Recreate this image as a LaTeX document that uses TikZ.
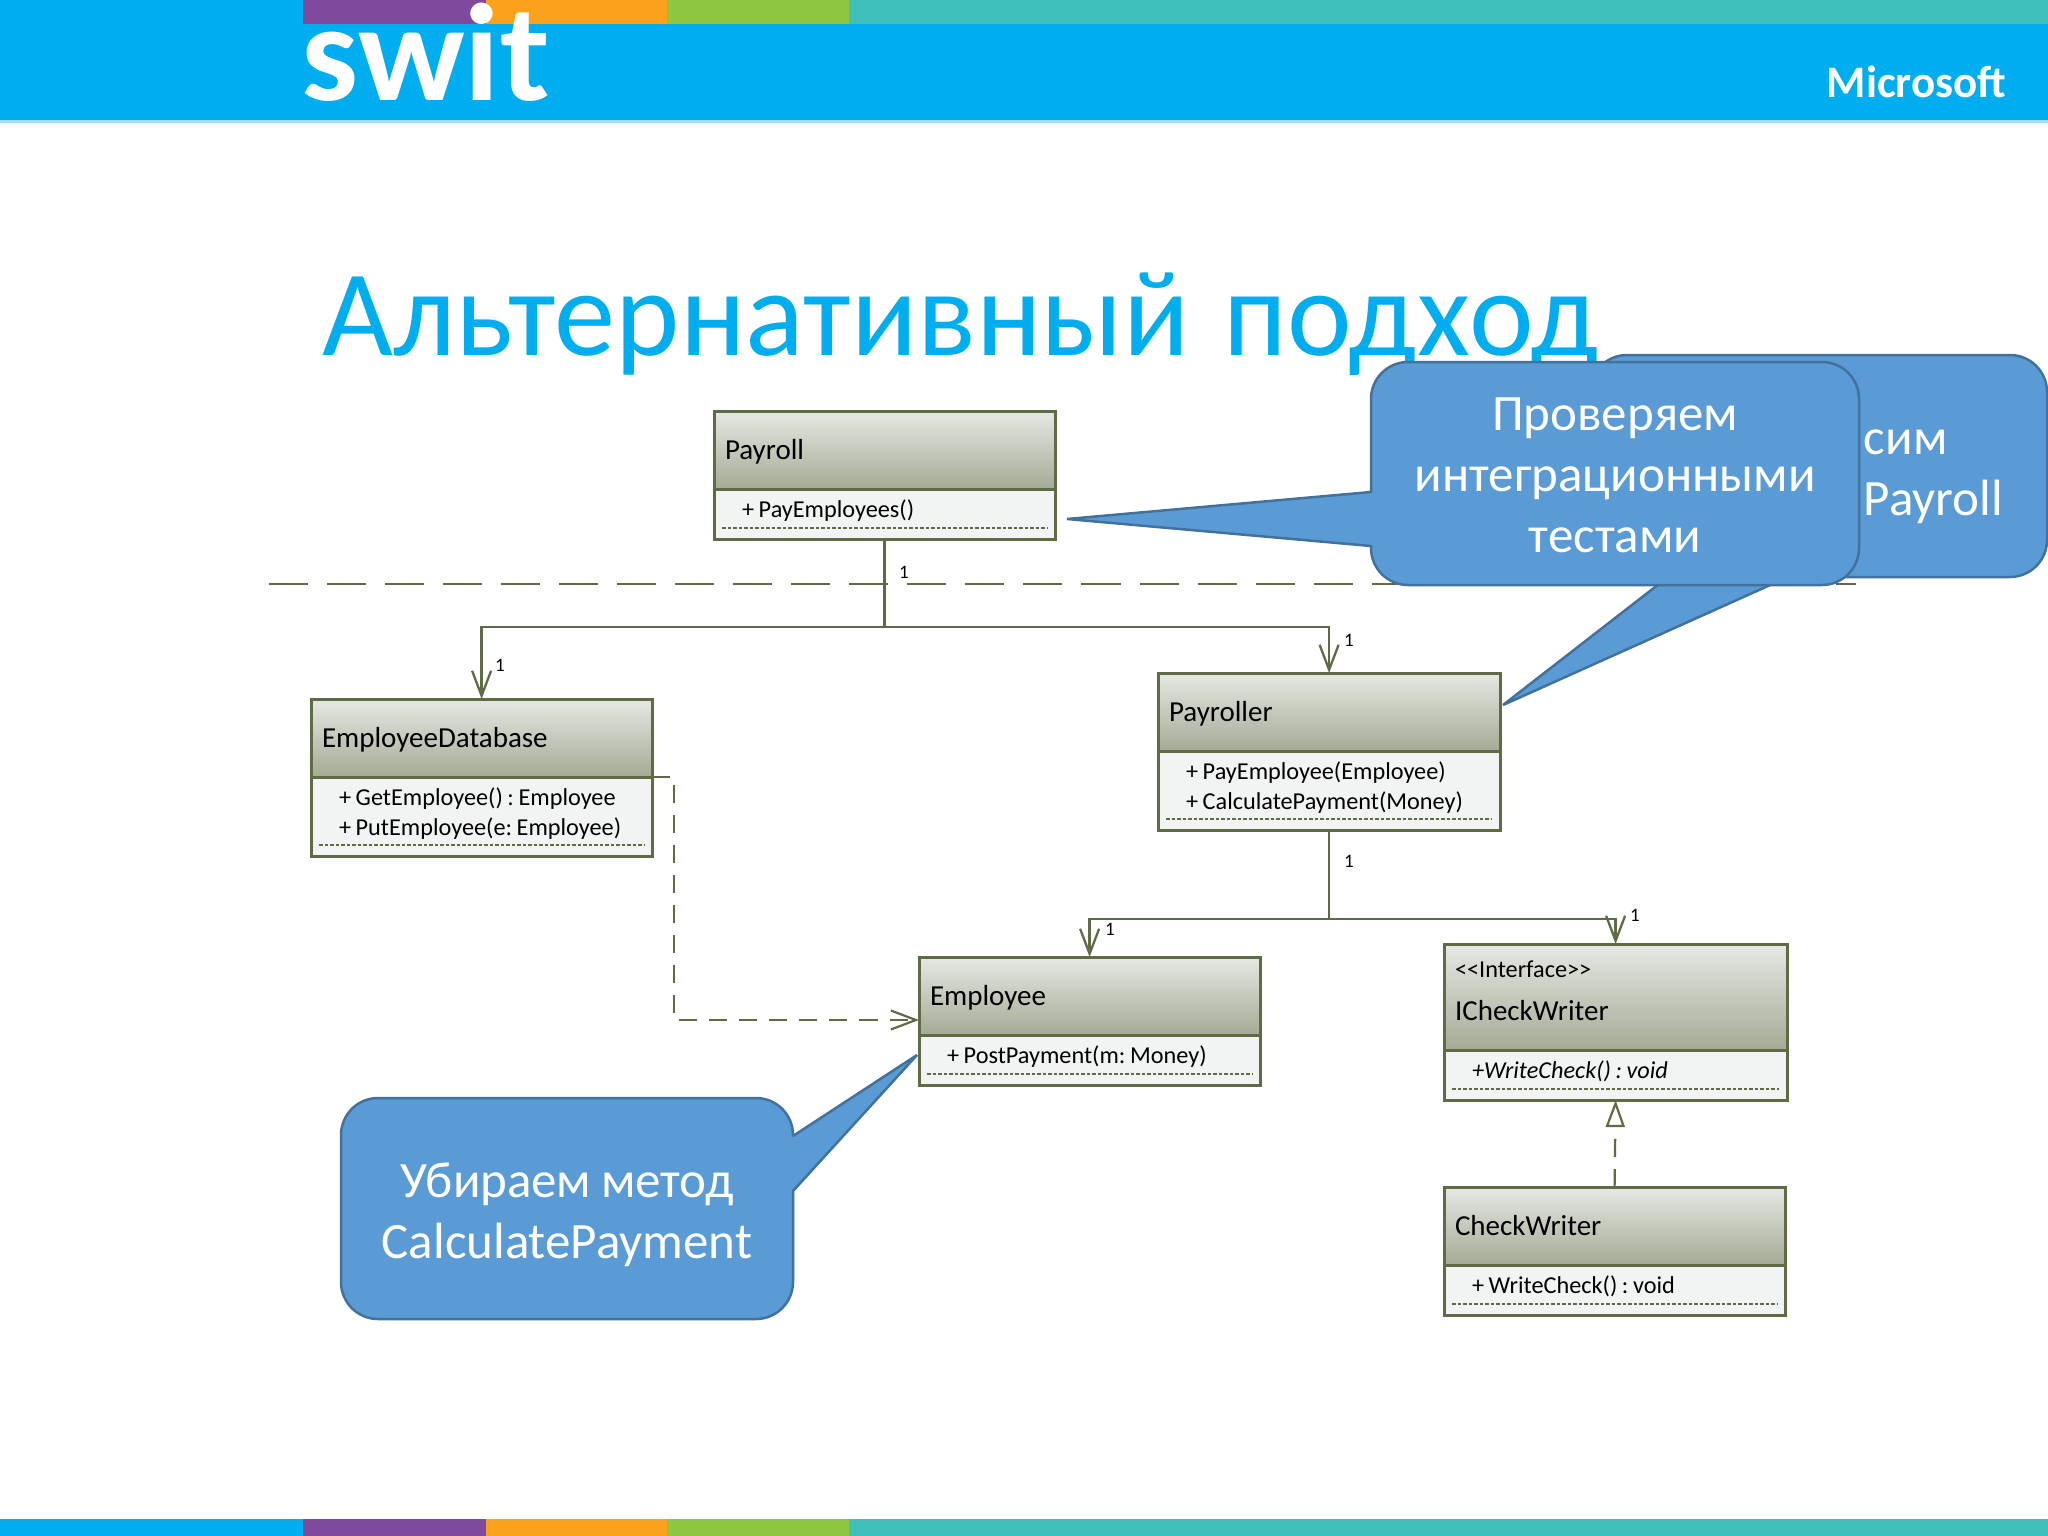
\documentclass[tikz,border=0pt]{standalone}
\usepackage{fontspec}
\setmainfont{Carlito}
\newfontfamily\titlefont{Carlito}[WordSpace=1.25]
\usetikzlibrary{arrows.meta,calc}
\definecolor{sky}{HTML}{00AEEF}
\definecolor{skyline}{HTML}{A6DDF6}
\definecolor{plum}{HTML}{7F4A9E}
\definecolor{amber}{HTML}{FBA11B}
\definecolor{leaf}{HTML}{8DC63F}
\definecolor{teal}{HTML}{40C0BC}
\definecolor{olive}{HTML}{5F6B45}
\definecolor{headtop}{HTML}{E6E8E3}
\definecolor{headbot}{HTML}{A4AA95}
\definecolor{opsfill}{HTML}{F2F3F3}
\definecolor{note}{HTML}{5B9BD5}
\definecolor{noteline}{HTML}{41719C}
\newcommand{\op}[1]{\hspace*{.26cm}#1}
\newcommand{\tightspace}{\frenchspacing\spaceskip=.19em\relax}
\tikzset{
  classhead/.style={draw=olive, line width=.03cm, top color=headtop, bottom color=headbot, anchor=north west, outer sep=0pt,
    inner xsep=.11cm, inner ysep=0pt, text width=3.19cm, align=left, text height=.485cm, text depth=.295cm,
    font=\fontsize{8.25}{12.5}\selectfont},
  classops/.style={draw=olive, line width=.03cm, fill=opsfill, anchor=north, outer sep=0pt,
    inner xsep=.02cm, inner ysep=0pt, text width=3.37cm, align=left, text height=.285cm, text depth=.215cm,
    font=\fontsize{6.9}{8.6}\selectfont, execute at begin node=\tightspace},
  twolines/.style={text depth=.505cm},
  opsline/.style={draw=olive, line width=.018cm, dash pattern=on .035cm off .02cm},
  assoc/.style={draw=olive, line width=.023cm, -{Straight Barb[length=.25cm,width=.19cm]}},
  stem/.style={draw=olive, line width=.023cm},
  dep/.style={draw=olive, line width=.022cm, dash pattern=on .18cm off .12cm, -{Straight Barb[length=.25cm,width=.19cm]}},
  impl/.style={draw=olive, line width=.022cm, dash pattern=on .18cm off .12cm, -{Triangle[open,length=.27cm,width=.19cm]}},
  mult/.style={font=\fontsize{5.4}{6}\selectfont, inner sep=0pt},
  callout/.style={fill=note, draw=noteline, line width=.025cm, line join=bevel},
  notetext/.style={text=white, font=\fontsize{14.5}{17.4}\selectfont, execute at begin node=\tightspace, align=center, inner sep=0pt, anchor=base, text width=4.8cm},
}
\begin{document}
\begin{tikzpicture}[x=.01cm,y=-.01cm]
\useasboundingbox (0,0) rectangle (2048,1536);
% header and footer bands
\fill[sky] (0,0) rectangle (2048,120);
\fill[skyline] (0,120) rectangle (2048,123);
\fill[plum] (303,0) rectangle (486,24);
\fill[amber] (486,0) rectangle (667,24);
\fill[leaf] (667,0) rectangle (849,24);
\fill[teal] (849,0) rectangle (2048,24);
\fill[sky] (0,1519) rectangle (303,1536);
\fill[plum] (303,1519) rectangle (486,1536);
\fill[amber] (486,1519) rectangle (667,1536);
\fill[leaf] (667,1519) rectangle (849,1536);
\fill[teal] (849,1519) rectangle (2048,1536);
\node[anchor=base west, inner sep=0pt, text=white, font=\fontsize{39.5}{40}\selectfont\bfseries] (logo) at (301,100) {\scalebox{1.03}[1]{swit}};
\node[anchor=base east, inner sep=0pt, text=white, font=\fontsize{12.8}{13}\selectfont\bfseries] (vendor) at (2007,97) {Microsoft};
\node[anchor=base west, inner sep=0pt, text=sky, font=\titlefont\fontsize{34.8}{36}\selectfont] (title) at (322,355) {Альтернативный подход};
% layer line
\coordinate (layerl) at (269,584);
\coordinate (layerr) at (1856,584);
\draw[draw=olive, line width=.025cm, dash pattern=on .39cm off .19cm] (layerl) -- (layerr);
% classes
\node[classhead] (payroll) at (714,411) {Payroll};
\node[classops] (payrollops) at (payroll.south) {\op{+ PayEmployees()}};
\node[classhead] (db) at (311,699) {EmployeeDatabase};
\node[classops, twolines] (dbops) at (db.south) {\op{+ GetEmployee() : Employee}\\\op{+ PutEmployee(e: Employee)}};
\node[classhead, text width=3.20cm] (payroller) at (1158,673) {Payroller};
\node[classops, twolines, text width=3.38cm] (payrollerops) at (payroller.south) {\op{+ PayEmployee(Employee)}\\\op{+ CalculatePayment(Money)}};
\node[classhead] (employee) at (919,957) {Employee};
\node[classops] (employeeops) at (employee.south) {\op{+ PostPayment(m: Money)}};
\node[classhead, text width=3.21cm, text height=.33cm, text depth=.73cm] (iwriter) at (1444,944) {{\fontsize{6.9}{12.5}\selectfont <\kern0pt<Interface>\kern0pt>}\\ICheckWriter};
\node[classops, text width=3.39cm] (iwriterops) at (iwriter.south) {\op{\itshape +WriteCheck() : void}};
\node[classhead] (writer) at (1444,1187) {CheckWriter};
\node[classops] (writerops) at (writer.south) {\op{+ WriteCheck() : void}};
\foreach \ops in {payrollops,dbops,payrollerops,employeeops,iwriterops,writerops}
  \draw[opsline] ($(\ops.south west)+(8,-11)$) -- ($(\ops.south east)+(-8,-11)$);
% connectors
\coordinate (payrolljoin) at ($(payrollops.south)+(0,88)$);
\draw[stem] (payrollops.south) -- (payrolljoin);
\draw[assoc] (payrolljoin) -| (db.north);
\draw[assoc] (payrolljoin) -| (payroller.north);
\coordinate (payrollerjoin) at ($(payrollerops.south)+(0,89)$);
\draw[stem] (payrollerops.south) -- (payrollerjoin);
\draw[assoc] (payrollerjoin) -| (employee.north);
\draw[assoc] (payrollerjoin) -| (iwriter.north);
\coordinate (employeein) at (919,1020);
\draw[dep] (dbops.north east) -- ++(22,0) |- (employeein);
\draw[impl] (writer.north) -- (iwriterops.south);
\node[mult] (m1) at (904,572) {1};
\node[mult] (m2) at (500,665) {1};
\node[mult] (m3) at (1349,640) {1};
\node[mult] (m4) at (1349,861) {1};
\node[mult] (m5) at (1110,929) {1};
\node[mult] (m6) at (1635,915) {1};
% callouts
\draw[callout] (1668,577) [rounded corners=.37cm] -- (1590,577) -- (1590,355) -- (2047,355) -- (2047,577) [sharp corners] -- (1788,577) -- (1503,705) -- cycle;
\node[notetext, align=left, text width=2cm] (note1) at (1964,454) {сим\\Payroll};
\draw[callout] (1371,546) [rounded corners=.37cm] -- (1371,585) -- (1859,585) -- (1859,362) -- (1371,362) [sharp corners] -- (1371,492) -- (1067,519) -- cycle;
\node[notetext] (note2) at (1615,430) {Проверяем\\интеграционными\\тестами};
\draw[callout] (793,1191) [rounded corners=.37cm] -- (793,1319) -- (341,1319) -- (341,1098) -- (793,1098) [sharp corners] -- (793,1136) -- (917,1055) -- cycle;
\node[notetext] (note3) at (567,1197) {Убираем метод\\CalculatePayment};
\end{tikzpicture}
\end{document}
